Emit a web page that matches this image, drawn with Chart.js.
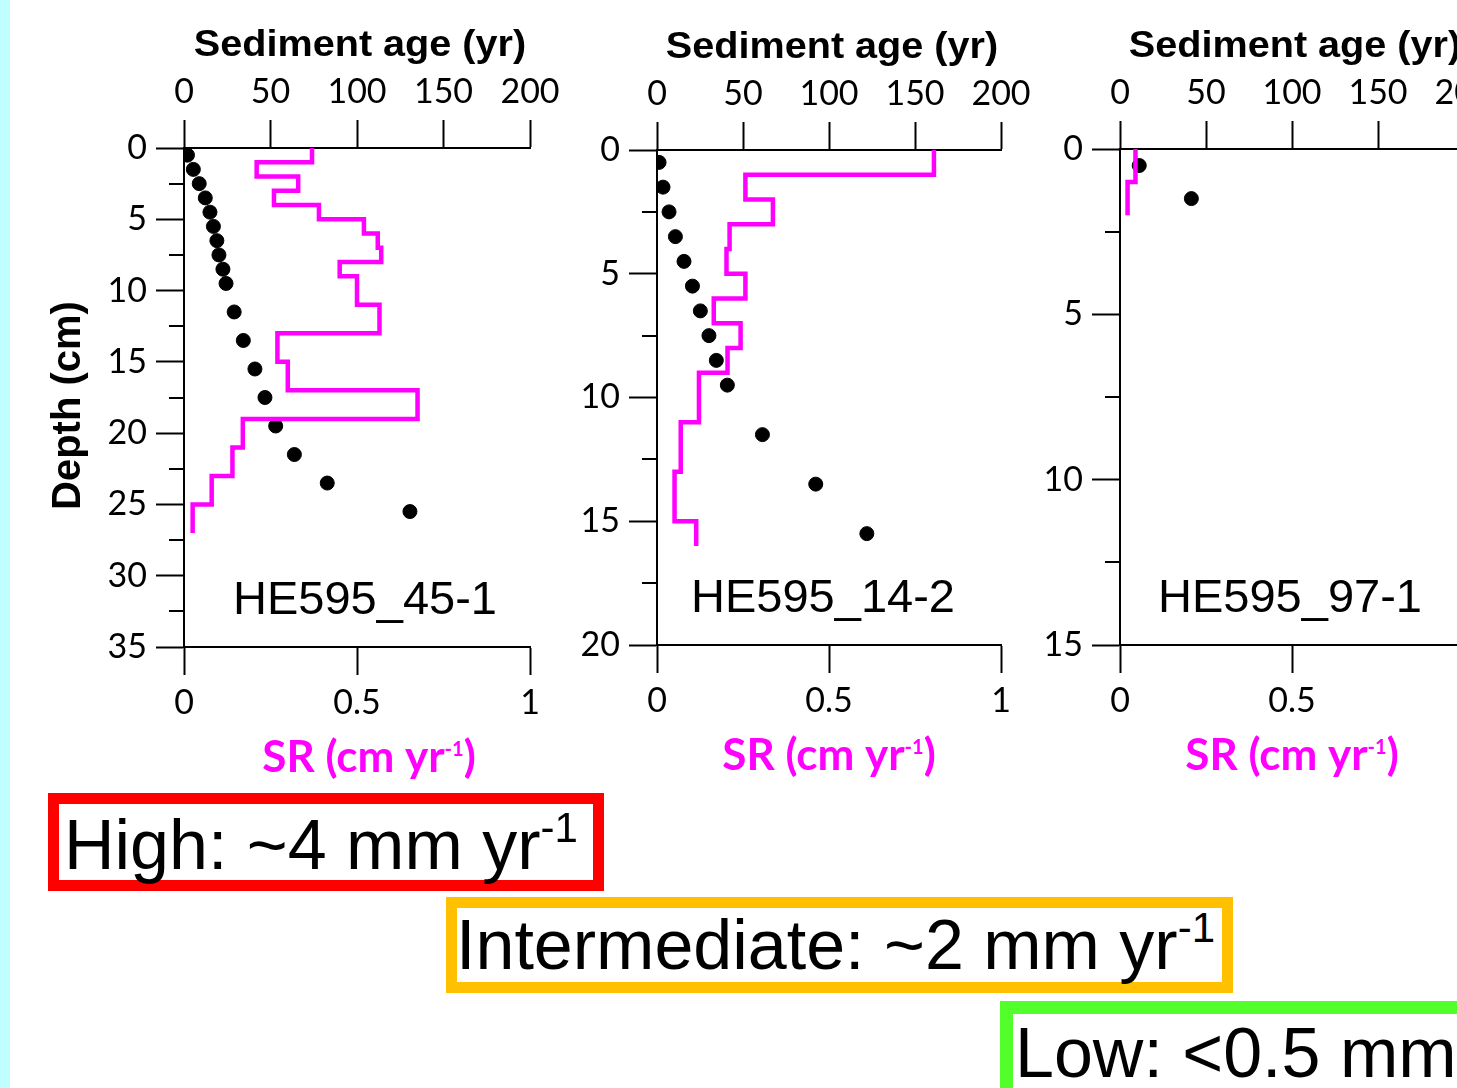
<!DOCTYPE html>
<html>
<head>
<meta charset="utf-8">
<title>Sediment age and SR, HE595 cores</title>
<script src="https://cdn.jsdelivr.net/npm/chart.js@4.4.1/dist/chart.umd.min.js"></script>
<style>
html, body { margin: 0; padding: 0; width: 1457px; height: 1088px; overflow: hidden; background: #fff; }
#strip { position: absolute; left: 0; top: 0; width: 10px; height: 1088px; background: #c0ffff; }
canvas { position: absolute; top: 0; }
.rateBox { position: absolute; box-sizing: border-box; border-style: solid; }
.rateText { position: absolute; font-family: "Liberation Sans", Arial, sans-serif; font-size: 70px; line-height: 70px; white-space: nowrap; color: #000; }
.rateText span { font-size: 42px; position: relative; top: -27px; }
</style>
</head>
<body>
<div id="strip"></div>
<canvas id="core45" width="580" height="800" style="left:0px"></canvas>
<canvas id="core14" width="510" height="800" style="left:540px"></canvas>
<canvas id="core97" width="514" height="800" style="left:1000px"></canvas>

<div class="rateBox" style="left:48px;top:793px;width:556px;height:98px;border-width:11px;border-color:#ff0000"></div>
<div class="rateText" style="left:64px;top:810px">High: ~4 mm yr<span>-1</span></div>
<div class="rateBox" style="left:446px;top:897px;width:787px;height:96px;border-width:11px;border-color:#ffc000"></div>
<div class="rateText" style="left:456px;top:910px">Intermediate: ~2 mm yr<span>-1</span></div>
<div class="rateBox" style="left:1000px;top:1001px;width:700px;height:200px;border-width:13px;border-color:#52ff2a"></div>
<div class="rateText" style="left:1015px;top:1018px">Low: &lt;0.5 mm yr<span>-1</span></div>

<script>
// axis ranges shared by all cores
const ageRange = [0, 200];
const ageStep = 50;
const srRange = [0, 1];
const srStep = 0.5;

// HE595_45-1
const ageDepth45 = [0.5, 1.5, 2.5, 3.5, 4.5, 5.5, 6.5, 7.5, 8.5, 9.5, 11.5, 13.5, 15.5, 17.5, 19.5, 21.5, 23.5, 25.5];
const ageYears45 = [2, 5.4, 8.8, 12.3, 15, 17, 19, 20.2, 22.5, 24.3, 29, 34.3, 41, 46.8, 53, 63.8, 82.8, 130.6];
const srBounds45 = [0, 1, 2, 3, 4, 5, 6, 7, 8, 9, 11, 13, 15, 17, 19, 21, 23, 25, 27];
const srRate45 = [0.37, 0.21, 0.33, 0.26, 0.39, 0.52, 0.56, 0.57, 0.45, 0.5, 0.565, 0.27, 0.3, 0.675, 0.17, 0.14, 0.08, 0.025];
const depthMax45 = 35;

// HE595_14-2
const ageDepth14 = [0.5, 1.5, 2.5, 3.5, 4.5, 5.5, 6.5, 7.5, 8.5, 9.5, 11.5, 13.5, 15.5];
const ageYears14 = [1.2, 3.5, 7, 10.7, 15.7, 20.6, 25.2, 30.2, 34.5, 40.9, 61.3, 92.3, 122];
const srBounds14 = [0, 1, 2, 3, 4, 5, 6, 7, 8, 9, 11, 13, 15, 16];
const srRate14 = [0.805, 0.257, 0.337, 0.211, 0.202, 0.257, 0.165, 0.243, 0.205, 0.122, 0.069, 0.051, 0.114];
const depthMax14 = 20;

// HE595_97-1
const ageDepth97 = [0.5, 1.5];
const ageYears97 = [11.2, 41.5];
const srBounds97 = [0, 1, 2];
const srRate97 = [0.045, 0.022];
const depthMax97 = 15;

const tickFont = { family: 'Lato', size: 34 };

// minor depth ticks, titles and core name
const coreDecor = {
    id: 'coreDecor',
    afterDraw(chart, args, opts) {
        const ctx = chart.ctx;
        const area = chart.chartArea;
        const yScale = chart.scales.y;
        const cx = (area.left + area.right) / 2;
        ctx.save();

        // short ticks between the labelled ones
        ctx.strokeStyle = '#000';
        ctx.lineWidth = 2;
        for (let v = 2.5; v < yScale.max; v += 5) {
            const py = Math.round(yScale.getPixelForValue(v));
            ctx.beginPath();
            ctx.moveTo(area.left - 15, py);
            ctx.lineTo(area.left, py);
            ctx.stroke();
        }

        ctx.fillStyle = '#000';
        ctx.textBaseline = 'alphabetic';

        // top title, slightly stretched
        ctx.font = 'bold 36px "Liberation Sans"';
        ctx.textAlign = 'center';
        ctx.save();
        ctx.translate(cx + 3, area.top - 92);
        ctx.scale(1.1, 1);
        ctx.fillText('Sediment age (yr)', 0, 0);
        ctx.restore();

        if (opts.depthTitle) {
            ctx.save();
            ctx.font = 'bold 40px "Liberation Sans"';
            ctx.translate(area.left - 104, (area.top + area.bottom) / 2 + 8);
            ctx.rotate(-Math.PI / 2);
            ctx.fillText('Depth (cm)', 0, 0);
            ctx.restore();
        }

        // core name
        ctx.font = '47px "Liberation Sans"';
        ctx.fillText(opts.name, cx + opts.nameDx, area.bottom - 33);

        // SR axis title with superscript
        const main = 'bold 44px Lato';
        const sup = 'bold 20px Lato';
        ctx.font = main;
        const w1 = ctx.measureText('SR (cm yr').width;
        const w3 = ctx.measureText(')').width;
        ctx.font = sup;
        const w2 = ctx.measureText('-1').width;
        let x = cx + opts.srDx - (w1 + w2 + w3) / 2;
        const by = area.bottom + 125;
        ctx.fillStyle = '#ff00ff';
        ctx.textAlign = 'left';
        ctx.font = main;
        ctx.fillText('SR (cm yr', x, by);
        x += w1;
        ctx.font = sup;
        ctx.fillText('-1', x, by - 16);
        x += w2;
        ctx.font = main;
        ctx.fillText(')', x, by);

        ctx.restore();
    }
};

function plainNumber(value) {
    return String(Number(value.toFixed(2)));
}

function axisLook(tickPadding) {
    return {
        grid: { drawOnChartArea: false, drawTicks: true, tickLength: 28, tickWidth: 2, tickColor: '#000', color: '#000' },
        border: { display: true, color: '#000', width: 2 },
        ticks: { color: '#000', font: tickFont, padding: tickPadding, autoSkip: false, maxRotation: 0, callback: plainNumber }
    };
}

function makeCore(canvasId, box, ageDepth, ageYears, srBounds, srRate, depthMax, name, nameDx, srDx, depthTitle) {
    const dots = ageDepth.map((d, i) => ({ x: ageYears[i], y: d }));
    // step outline: every interval gives a vertical segment at its rate
    const steps = [];
    srRate.forEach((r, i) => {
        steps.push({ x: r, y: srBounds[i] });
        steps.push({ x: r, y: srBounds[i + 1] });
    });

    const ageAxis = axisLook(8);
    Object.assign(ageAxis, { type: 'linear', axis: 'x', position: 'top', min: ageRange[0], max: ageRange[1] });
    ageAxis.ticks.stepSize = ageStep;
    ageAxis.afterFit = s => { s.height = box.top; };

    const srAxis = axisLook(8);
    Object.assign(srAxis, { type: 'linear', axis: 'x', position: 'bottom', min: srRange[0], max: srRange[1] });
    srAxis.ticks.stepSize = srStep;
    srAxis.afterFit = s => { s.height = box.bottom; };

    const depthAxis = axisLook(9);
    Object.assign(depthAxis, { type: 'linear', axis: 'y', position: 'left', reverse: true, min: 0, max: depthMax });
    depthAxis.ticks.stepSize = 5;
    depthAxis.afterFit = s => { s.width = box.left; };

    return new Chart(document.getElementById(canvasId), {
        type: 'scatter',
        data: {
            datasets: [
                {
                    label: 'SR',
                    data: steps,
                    xAxisID: 'xSR',
                    yAxisID: 'y',
                    showLine: true,
                    borderColor: '#ff00ff',
                    borderWidth: 4.5,
                    pointRadius: 0,
                    fill: false
                },
                {
                    label: 'Sediment age',
                    data: dots,
                    xAxisID: 'xAge',
                    yAxisID: 'y',
                    showLine: false,
                    pointRadius: 7,
                    pointBackgroundColor: '#000',
                    pointBorderColor: '#000',
                    pointBorderWidth: 1
                }
            ]
        },
        options: {
            responsive: false,
            animation: false,
            events: [],
            layout: { autoPadding: false, padding: { left: 0, top: 0, bottom: 0, right: box.right } },
            scales: { xAge: ageAxis, xSR: srAxis, y: depthAxis },
            plugins: {
                legend: { display: false },
                tooltip: { enabled: false },
                coreDecor: { name: name, nameDx: nameDx, srDx: srDx, depthTitle: depthTitle }
            }
        },
        plugins: [coreDecor]
    });
}

makeCore('core45', { left: 184, top: 148, bottom: 153, right: 50 },
    ageDepth45, ageYears45, srBounds45, srRate45, depthMax45, 'HE595_45-1', 8, 12, true);
makeCore('core14', { left: 117, top: 150, bottom: 155, right: 49 },
    ageDepth14, ageYears14, srBounds14, srRate14, depthMax14, 'HE595_14-2', -6, 0, false);
makeCore('core97', { left: 120, top: 149, bottom: 155, right: 50 },
    ageDepth97, ageYears97, srBounds97, srRate97, depthMax97, 'HE595_97-1', -2, 0, false);
</script>
</body>
</html>
